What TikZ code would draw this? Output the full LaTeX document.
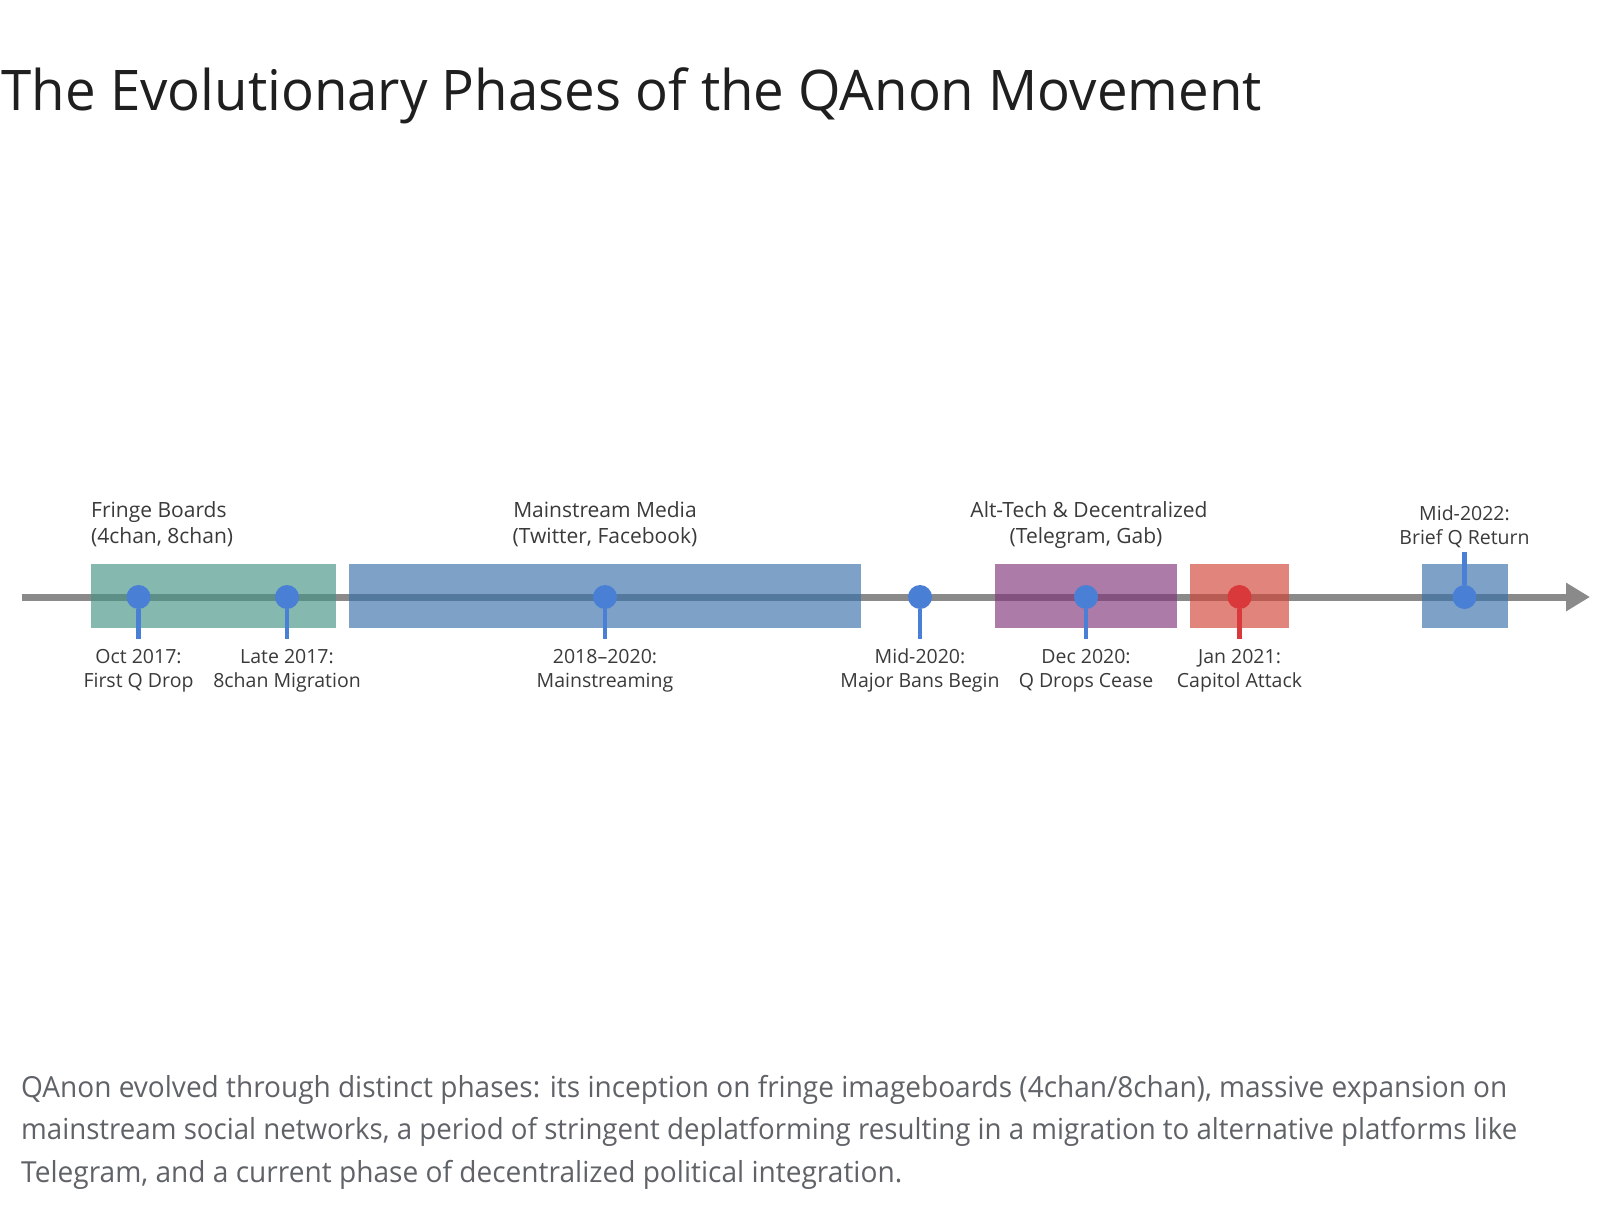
\documentclass[tikz,border=0pt]{standalone}
\usepackage{fontspec}
\setmainfont{Open Sans}
\usepackage{graphicx}
\usetikzlibrary{arrows.meta}
\definecolor{titlec}{HTML}{1F1F1F}
\definecolor{labelc}{HTML}{3A3A3A}
\definecolor{capc}{HTML}{5F6368}
\definecolor{axisc}{HTML}{8A8A8A}
\definecolor{tealb}{RGB}{69,146,133}
\definecolor{blueb}{RGB}{56,112,170}
\definecolor{purpb}{RGB}{129,53,121}
\definecolor{redb}{RGB}{210,67,53}
\definecolor{dotblue}{HTML}{4A7FD6}
\definecolor{dotred}{HTML}{D9393A}
\begin{document}
\begin{tikzpicture}[x=1pt,y=-1pt,
  phasebox/.style={draw=none, fill opacity=0.65, inner sep=0, minimum height=64pt},
  dotnode/.style={circle, draw=none, inner sep=0, minimum size=24pt},
  stemline/.style={line width=4.5pt},
  axisline/.style={line width=7pt, axisc, -{Triangle[length=24pt,width=27pt]}},
  toplbl/.style={anchor=base, inner sep=0, text=labelc, font=\fontsize{21}{24}\selectfont},
  botlbl/.style={anchor=base, inner sep=0, text=labelc, font=\fontsize{19.5}{22}\selectfont},
  capline/.style={anchor=base west, inner sep=0, text=capc, font=\fontsize{29}{34}\selectfont}
]
\useasboundingbox[fill=white] (0,0) rectangle (1600,1206);

% title
\node[anchor=base west, inner sep=0, text=titlec, font=\fontsize{56}{62}\selectfont] (title) at (1.5,111)
  {\resizebox{1260pt}{\height}{The Evolutionary Phases of the QAnon Movement}};

% axis
\coordinate (axs) at (22,597);
\coordinate (axe) at (1590,597);
\draw[axisline] (axs) -- (axe);

% phase boxes
\node[phasebox, fill=tealb, minimum width=245.3pt] (b1) at (213.35,596) {};
\node[phasebox, fill=blueb, minimum width=511.5pt] (b2) at (604.75,596) {};
\node[phasebox, fill=purpb, minimum width=182pt] (b3) at (1086,596) {};
\node[phasebox, fill=redb, minimum width=99pt] (b4) at (1239.5,596) {};
\node[phasebox, fill=blueb, minimum width=86pt] (b5) at (1464.5,596) {};

% event dots
\node[dotnode, fill=dotblue] (d1) at (138.5,597) {};
\node[dotnode, fill=dotblue] (d2) at (287,597) {};
\node[dotnode, fill=dotblue] (d3) at (605,597) {};
\node[dotnode, fill=dotblue] (d4) at (920,597) {};
\node[dotnode, fill=dotblue] (d5) at (1086,597) {};
\node[dotnode, fill=dotred] (d6) at (1239.5,597) {};
\node[dotnode, fill=dotblue] (d7) at (1464.5,597) {};

% stems
\coordinate (s1) at (138.5,639);
\coordinate (s2) at (287,639);
\coordinate (s3) at (605,639);
\coordinate (s4) at (920,639);
\coordinate (s5) at (1086,639);
\coordinate (s6) at (1239.5,639);
\coordinate (s7) at (1464.5,552);
\draw[stemline, dotblue] (d1.south) -- (s1);
\draw[stemline, dotblue] (d2.south) -- (s2);
\draw[stemline, dotblue] (d3.south) -- (s3);
\draw[stemline, dotblue] (d4.south) -- (s4);
\draw[stemline, dotblue] (d5.south) -- (s5);
\draw[stemline, dotred] (d6.south) -- (s6);
\draw[stemline, dotblue] (d7.north) -- (s7);

% phase labels (top)
\node[toplbl, anchor=base west] (p1a) at (91,517) {Fringe Boards};
\node[toplbl, anchor=base west] (p1b) at (91,543) {(4chan, 8chan)};
\node[toplbl] (p2a) at (605,517) {Mainstream Media};
\node[toplbl] (p2b) at (605,543) {(Twitter, Facebook)};
\node[toplbl] (p3a) at (1089,517) {Alt-Tech \& Decentralized};
\node[toplbl] (p3b) at (1086,543) {(Telegram, Gab)};
\node[botlbl] (e7a) at (1464.5,520) {Mid-2022:};
\node[botlbl] (e7b) at (1464.5,544) {Brief Q Return};

% event labels (bottom)
\node[botlbl] (e1a) at (138.5,663) {Oct 2017:};
\node[botlbl] (e1b) at (138.5,687) {First Q Drop};
\node[botlbl] (e2a) at (287,663) {Late 2017:};
\node[botlbl] (e2b) at (287,687) {8chan Migration};
\node[botlbl] (e3a) at (605,663) {2018–2020:};
\node[botlbl] (e3b) at (605,687) {Mainstreaming};
\node[botlbl] (e4a) at (920,663) {Mid-2020:};
\node[botlbl] (e4b) at (920,687) {Major Bans Begin};
\node[botlbl] (e5a) at (1086,663) {Dec 2020:};
\node[botlbl] (e5b) at (1086,687) {Q Drops Cease};
\node[botlbl] (e6a) at (1239.5,663) {Jan 2021:};
\node[botlbl] (e6b) at (1239.5,687) {Capitol Attack};

% caption
\node[capline] (c1) at (21,1097) {\resizebox{1486pt}{\height}{QAnon evolved through distinct phases: its inception on fringe imageboards (4chan/8chan), massive expansion on}};
\node[capline] (c2) at (21,1139.5) {\resizebox{1496pt}{\height}{mainstream social networks, a period of stringent deplatforming resulting in a migration to alternative platforms like}};
\node[capline] (c3) at (21,1182) {\resizebox{881pt}{\height}{Telegram, and a current phase of decentralized political integration.}};
\end{tikzpicture}
\end{document}
